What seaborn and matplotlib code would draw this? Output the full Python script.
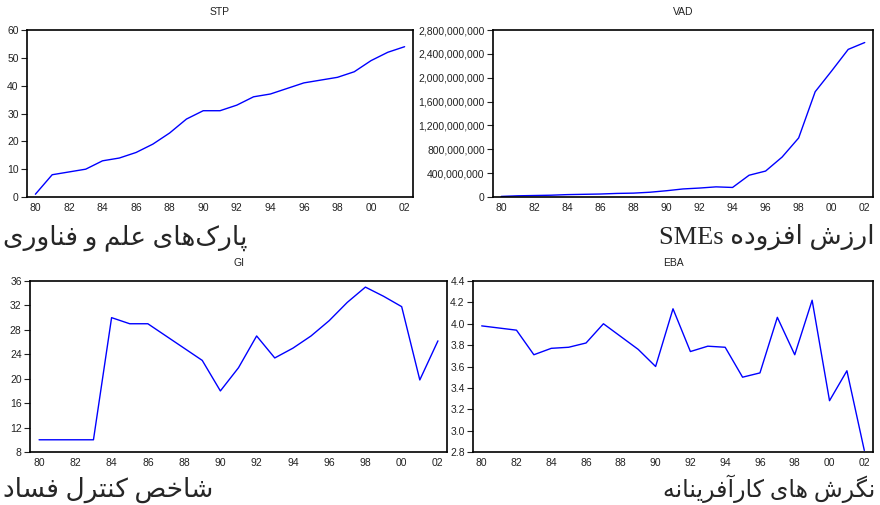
import numpy as np
import pandas as pd
import matplotlib
matplotlib.use("Agg")
import matplotlib.pyplot as plt
import matplotlib.ticker as mticker
import seaborn as sns

# ---------------- data ----------------
year_labels = ["80", "81", "82", "83", "84", "85", "86", "87", "88", "89", "90",
               "91", "92", "93", "94", "95", "96", "97", "98", "99", "00", "01", "02"]

stp = [1, 8, 9, 10, 13, 14, 16, 19, 23, 28, 31, 31, 33, 36, 37, 39, 41, 42, 43, 45, 49, 52, 54]

vad = [10e6, 20e6, 25e6, 30e6, 40e6, 45e6, 50e6, 60e6, 65e6, 80e6, 105e6, 135e6,
       150e6, 170e6, 160e6, 365e6, 435e6, 670e6, 990e6, 1765e6, 2115e6, 2475e6, 2590e6]

gi = [10, 10, 10, 10, 30, 29, 29, 27, 25, 23, 18, 21.8, 27, 23.4, 25, 27, 29.5,
      32.5, 35, 33.5, 31.8, 19.8, 26.2]

eba = [3.98, 3.96, 3.94, 3.71, 3.77, 3.78, 3.82, 4.00, 3.88, 3.76, 3.60, 4.14, 3.74,
       3.79, 3.78, 3.50, 3.54, 4.06, 3.71, 4.22, 3.28, 3.56, 2.815]

titles = ["STP", "VAD", "GI", "EBA"]
captions = ["پارک\u200cهای علم و فناوری", "ارزش افزوده SMEs",
            "شاخص کنترل فساد", "نگرش های کارآفرینانه"]

# ---------------- minimal Persian shaping (matplotlib has no shaping) ----------------
FORMS = {
    "\u0627": ("\uFE8D", "\uFE8E", None, None),
    "\u0622": ("\uFE81", "\uFE82", None, None),
    "\u062F": ("\uFEA9", "\uFEAA", None, None),
    "\u0631": ("\uFEAD", "\uFEAE", None, None),
    "\u0632": ("\uFEAF", "\uFEB0", None, None),
    "\u0648": ("\uFEED", "\uFEEE", None, None),
    "\u067E": ("\uFB56", "\uFB57", "\uFB58", "\uFB59"),
    "\u062A": ("\uFE95", "\uFE96", "\uFE97", "\uFE98"),
    "\u062E": ("\uFEA5", "\uFEA6", "\uFEA7", "\uFEA8"),
    "\u0633": ("\uFEB1", "\uFEB2", "\uFEB3", "\uFEB4"),
    "\u0634": ("\uFEB5", "\uFEB6", "\uFEB7", "\uFEB8"),
    "\u0635": ("\uFEB9", "\uFEBA", "\uFEBB", "\uFEBC"),
    "\u0639": ("\uFEC9", "\uFECA", "\uFECB", "\uFECC"),
    "\u0641": ("\uFED1", "\uFED2", "\uFED3", "\uFED4"),
    "\u06A9": ("\uFB8E", "\uFB8F", "\uFB90", "\uFB91"),
    "\u06AF": ("\uFB92", "\uFB93", "\uFB94", "\uFB95"),
    "\u0644": ("\uFEDD", "\uFEDE", "\uFEDF", "\uFEE0"),
    "\u0645": ("\uFEE1", "\uFEE2", "\uFEE3", "\uFEE4"),
    "\u0646": ("\uFEE5", "\uFEE6", "\uFEE7", "\uFEE8"),
    "\u0647": ("\uFEE9", "\uFEEA", "\uFEEB", "\uFEEC"),
    "\u06CC": ("\uFBFC", "\uFBFD", "\uFBFE", "\uFBFF"),
}


def _dual(c):
    return c in FORMS and FORMS[c][2] is not None


def shape(s):
    out = []
    n = len(s)
    for i, c in enumerate(s):
        if c not in FORMS:
            if c == "\u200c":
                continue
            out.append(c)
            continue
        prev = s[i - 1] if i > 0 else ""
        nxt = s[i + 1] if i + 1 < n else ""
        join_prev = _dual(prev)
        join_next = _dual(c) and nxt in FORMS
        iso, fin, ini, med = FORMS[c]
        if join_prev and join_next:
            out.append(med)
        elif join_prev:
            out.append(fin)
        elif join_next:
            out.append(ini)
        else:
            out.append(iso)
    return "".join(out)


def visual(s):
    shaped = shape(s)
    runs = []
    for ch in shaped:
        latin = ch.isascii() and ch.isalnum()
        if runs and runs[-1][0] == latin:
            runs[-1][1].append(ch)
        else:
            runs.append([latin, [ch]])
    parts = []
    for latin, chars in reversed(runs):
        txt = "".join(chars)
        parts.append(txt if latin else txt[::-1])
    return "".join(parts)


# ---------------- figure ----------------
sns.set_style("white")
plt.rcParams["font.family"] = ["Liberation Sans", "DejaVu Sans"]

W, H = 880, 505
fig = plt.figure(figsize=(W / 100, H / 100), dpi=100)


def box(l, r, t, b):
    return [l / W, 1 - b / H, (r - l) / W, (b - t) / H]


boxes = [box(27, 413, 30, 197), box(493, 873, 30, 197),
         box(30, 447, 281, 452), box(473, 873, 281, 452)]
series = [stp, vad, gi, eba]
ylims = [(0, 60), (0, 2.8e9), (8, 36), (2.8, 4.4)]
ysteps = [10, 4e8, 4, 0.2]
yfmts = [mticker.FormatStrFormatter("%d"),
         mticker.FuncFormatter(lambda v, p: f"{v:,.0f}"),
         mticker.FormatStrFormatter("%d"),
         mticker.FormatStrFormatter("%.1f")]

idx = np.arange(len(year_labels))
for k in range(4):
    ax = fig.add_axes(boxes[k])
    df = pd.DataFrame({"t": idx, "v": series[k]})
    sns.lineplot(data=df, x="t", y="v", ax=ax, color="#0000FF", linewidth=1.0)
    ax.set_xlim(-0.5, len(idx) - 0.5)
    ax.set_ylim(*ylims[k])
    ax.set_xlabel("")
    ax.set_ylabel("")
    ax.set_xticks(idx[::2])
    ax.set_xticklabels(year_labels[::2])
    ax.set_xticks(np.arange(-0.5, len(idx), 1.0), minor=True)
    ax.yaxis.set_major_locator(mticker.MultipleLocator(ysteps[k]))
    ax.yaxis.set_major_formatter(yfmts[k])
    ax.tick_params(axis="x", which="major", length=0, pad=4, labelsize=7.5, colors="#222222")
    ax.tick_params(axis="x", which="minor", length=3, width=0.8, direction="out", color="#222222")
    ax.tick_params(axis="y", which="major", length=4, width=0.8, direction="out", pad=2,
                   labelsize=7.5, colors="#222222", left=True)
    for sp in ax.spines.values():
        sp.set_visible(True)
        sp.set_color("black")
        sp.set_linewidth(1.2)
    ax.set_title(titles[k], fontsize=7.5, pad=11, color="#222222")

cap_font = ["Liberation Serif", "DejaVu Sans"]
fig.text(3 / W, 1 - 244 / H, visual(captions[0]), ha="left", va="baseline",
         fontsize=19, family=cap_font)
fig.text(875 / W, 1 - 244 / H, visual(captions[1]), ha="right", va="baseline",
         fontsize=19, family=cap_font)
fig.text(3 / W, 1 - 497 / H, visual(captions[2]), ha="left", va="baseline",
         fontsize=19, family=cap_font)
fig.text(875 / W, 1 - 497 / H, visual(captions[3]), ha="right", va="baseline",
         fontsize=17, family=cap_font)

fig.savefig("out.png", dpi=100)
